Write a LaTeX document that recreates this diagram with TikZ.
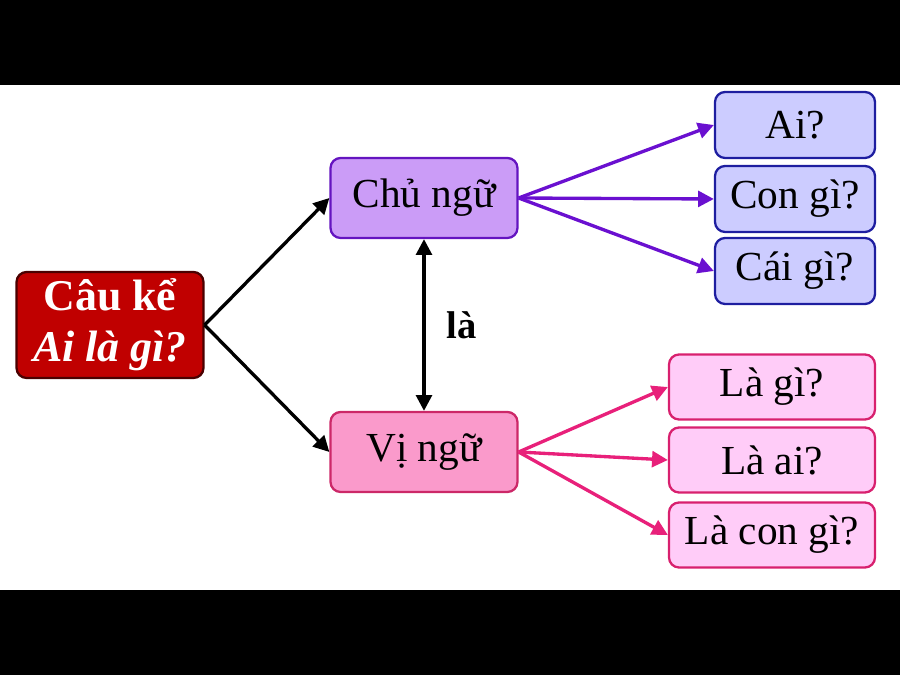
\documentclass[tikz,border=0pt]{standalone}
\usepackage{fontspec}
\setmainfont{Liberation Serif}
\usetikzlibrary{arrows.meta}

\definecolor{capred}{HTML}{C00000}
\definecolor{capredline}{HTML}{4A0000}
\definecolor{subjfill}{HTML}{CB9CF7}
\definecolor{subjline}{HTML}{6414C0}
\definecolor{ansfill}{HTML}{CCCCFF}
\definecolor{ansline}{HTML}{1E1EA0}
\definecolor{predfill}{HTML}{FA9ACB}
\definecolor{predline}{HTML}{CC2868}
\definecolor{isfill}{HTML}{FFCCF8}
\definecolor{isline}{HTML}{D8206E}
\definecolor{subjarrow}{HTML}{6A10D0}
\definecolor{predarrow}{HTML}{E8207A}

\begin{document}
\begin{tikzpicture}[x=0.02cm, y=-0.02cm,
          box/.style = {draw, line width=1.3pt, rounded corners=0.2cm, align=center,
                        font=\fontsize{23.5}{27}\selectfont},
          root/.style = {box, fill=capred, draw=capredline, text=white,
                         minimum width=3.74cm, minimum height=2.12cm,
                         font=\fontsize{25}{29}\selectfont\bfseries},
          subj/.style = {box, fill=subjfill, draw=subjline, minimum width=3.74cm, minimum height=1.6cm},
          pred/.style = {box, fill=predfill, draw=predline, minimum width=3.74cm, minimum height=1.6cm},
          ans/.style = {box, fill=ansfill, draw=ansline, minimum width=3.2cm, minimum height=1.32cm},
          is/.style = {box, fill=isfill, draw=isline, minimum width=4.12cm, minimum height=1.3cm},
          link/.style = {line width=1.9pt, -{Triangle[length=9pt, width=9pt]}}]
        \useasboundingbox (0,0) rectangle (900,675);
        \fill[black] (0,0) rectangle (900,85);
        \fill[black] (0,590) rectangle (900,675);

        \node[root] (cau) at (110,325) {Câu kể\\\textit{Ai là gì?}};
        \node[subj] (chu) at (424,198) {Chủ ngữ};
        \node[pred] (vi) at (424,452) {Vị ngữ};
        \node[ans] (ai) at (795,125) {Ai?};
        \node[ans] (con) at (795,199) {Con gì?};
        \node[ans] (cai) at (795,271) {Cái gì?};
        \node[is] (lagi) at (772,387) {Là gì?};
        \node[is] (laai) at (772,460) {Là ai?};
        \node[is] (lacon) at (772,535) {Là con gì?};

        \draw[link] (cau.east) -- (chu.west);
        \draw[link] (cau.east) -- (vi.west);
        \foreach \n in {ai, con, cai}
                 {
                   \draw[link, subjarrow] (chu.east) -- (\n.west);
                 }
        \foreach \n in {lagi, laai, lacon}
                 {
                   \draw[link, predarrow] (vi.east) -- (\n.west);
                 }
        \draw[link, {Triangle[length=9pt, width=9pt]}-{Triangle[length=9pt, width=9pt]}]
             (chu.south) -- node[right=0.3cm, font=\fontsize{22}{26}\selectfont\bfseries] {là} (vi.north);
      \end{tikzpicture}
\end{document}
